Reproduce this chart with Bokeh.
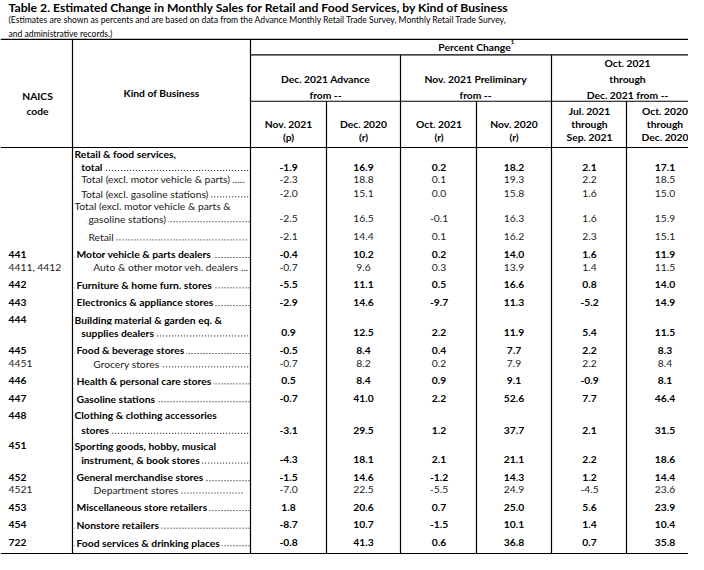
from bokeh.plotting import figure
from bokeh.models import ColumnDataSource, Range1d
from bokeh.core.properties import value
from bokeh.embed import file_html
from bokeh.resources import INLINE

FONT = "Lato"

# ---------------- data ----------------
title = "Table 2.  Estimated Change in Monthly Sales for Retail and Food Services, by Kind of Business"
subtitle1 = "(Estimates are shown as percents and are based on data from the Advance Monthly Retail Trade Survey,  Monthly Retail Trade Survey,"
subtitle2 = " and administrative records.)"

naics = ["", "", "", "", "", "441", "4411, 4412", "442", "443", "444", "445", "4451",
         "446", "447", "448", "451", "452", "4521", "453", "454", "722"]
kind_first = ["Retail & food services,", "", "", "Total (excl. motor vehicle & parts &", "", "", "", "", "",
              "Building material & garden eq. &", "", "", "", "", "Clothing & clothing accessories",
              "Sporting goods, hobby, musical", "", "", "", "", ""]
kind_main = ["total", "Total (excl. motor vehicle & parts) .....", "Total (excl. gasoline stations)",
             "gasoline stations)", "Retail", "Motor vehicle & parts dealers",
             "Auto & other motor veh. dealers ...", "Furniture & home furn. stores",
             "Electronics & appliance stores", "supplies dealers", "Food & beverage stores",
             "Grocery stores", "Health & personal care stores", "Gasoline stations", "stores",
             "instrument, & book stores", "General merchandise stores", "Department stores",
             "Miscellaneous store retailers", "Nonstore retailers", "Food services & drinking places"]
is_bold = [True, False, False, False, False, True, False, True, True, True, True, False,
           True, True, True, True, True, False, True, True, True]

dec21_from_nov21 = [-1.9, -2.3, -2.0, -2.5, -2.1, -0.4, -0.7, -5.5, -2.9, 0.9, -0.5, -0.7,
                    0.5, -0.7, -3.1, -4.3, -1.5, -7.0, 1.8, -8.7, -0.8]
dec21_from_dec20 = [16.9, 18.8, 15.1, 16.5, 14.4, 10.2, 9.6, 11.1, 14.6, 12.5, 8.4, 8.2,
                    8.4, 41.0, 29.5, 18.1, 14.6, 22.5, 20.6, 10.7, 41.3]
nov21_from_oct21 = [0.2, 0.1, 0.0, -0.1, 0.1, 0.2, 0.3, 0.5, -9.7, 2.2, 0.4, 0.2,
                    0.9, 2.2, 1.2, 2.1, -1.2, -5.5, 0.7, -1.5, 0.6]
nov21_from_nov20 = [18.2, 19.3, 15.8, 16.3, 16.2, 14.0, 13.9, 16.6, 11.3, 11.9, 7.7, 7.9,
                    9.1, 52.6, 37.7, 21.1, 14.3, 24.9, 25.0, 10.1, 36.8]
q_from_jul_sep21 = [2.1, 2.2, 1.6, 1.6, 2.3, 1.6, 1.4, 0.8, -5.2, 5.4, 2.2, 2.2,
                    -0.9, 7.7, 2.1, 2.2, 1.2, -4.5, 5.6, 1.4, 0.7]
q_from_oct_dec20 = [17.1, 18.5, 15.0, 15.9, 15.1, 11.9, 11.5, 14.0, 14.9, 11.5, 8.3, 8.4,
                    8.1, 46.4, 31.5, 18.6, 14.4, 23.6, 23.9, 10.4, 35.8]

group_headers = [["Dec. 2021 Advance", "from --"], ["Nov. 2021 Preliminary", "from --"],
                 ["Oct. 2021", "through", "Dec. 2021 from --"]]
col_headers = [["Nov. 2021", "(p)"], ["Dec. 2020", "(r)"], ["Oct. 2021", "(r)"], ["Nov. 2020", "(r)"],
               ["Jul. 2021", "through", "Sep. 2021"], ["Oct. 2020", "through", "Dec. 2020"]]

# ---------------- layout (reference pixel coordinates) ----------------
row_y = [173.5, 186, 200.5, 226, 244.5, 262.5, 276, 293.5, 311.7, 342.7, 360.7, 374.3,
         391.7, 410, 442.3, 472.7, 490.7, 503.3, 521.3, 539.3, 557.3]
first_y = [160, None, None, 213, None, None, None, None, None, 329.7, None, None,
           None, None, 427.3, 458.3, None, None, None, None, None]
main_x = [78.7, 78.7, 78.7, 86, 86, 74, 90.7, 74, 74, 78.7, 74, 90.7,
          74, 74, 78.7, 78.7, 74, 91, 74, 74, 74]
first_x = 74
dots_end = [250, 241.5, 250, 250, 247, 250, 241.5, 250, 250, 250, 250, 250,
            250, 250, 250, 250, 250, 243.3, 250, 250, 250]
col_x = [288, 363, 438.5, 513.5, 589, 664.5]
group_x = [325, 475, 627]

BODY = "10.3px"

p = figure(width=688, height=554, x_range=Range1d(0, 688), y_range=Range1d(569.5, 3),
           output_backend="svg", toolbar_location=None, min_border=0,
           x_axis_type=None, y_axis_type=None)
p.grid.visible = False
p.outline_line_color = None
p.background_fill_color = "white"
p.border_fill_color = "white"


def txt(xs, ys, texts, size=BODY, bold=False, align="left", color="#000000", bg=None):
    src = ColumnDataSource(dict(x=xs, y=ys, t=texts))
    kw = {}
    if bg:
        kw = dict(background_fill_color=bg, padding=2)
    p.text(x="x", y="y", text="t", source=src, text_font=value(FONT), text_font_size=size,
           text_font_style="bold" if bold else "normal", text_align=align,
           text_baseline="middle", text_color=color, **kw)


# title & notes
txt([8], [10], [title], size="12.2px", bold=True)
txt([8], [23], [subtitle1], size="8.6px")
txt([8], [37], [subtitle2], size="8.6px")

# dot leaders
lx0, lx1, ly = [], [], []
for i in range(len(kind_main)):
    lx0.append(main_x[i])
    lx1.append(dots_end[i])
    ly.append(row_y[i] + 3.3)
p.segment(x0=lx0, y0=ly, x1=lx1, y1=ly, line_color="#000000", line_width=1, line_dash="1 2")

# header texts
hx, hy, ht = [], [], []
hx += [37, 37, 161]
hy += [100.5, 116, 98]
ht += ["NAICS", "code", "Kind of Business"]
hx.append(474); hy.append(51); ht.append("Percent Change")
for gi, lines in enumerate(group_headers):
    ys = [83, 100] if len(lines) == 2 else [67, 83, 100]
    for ln, yy in zip(lines, ys):
        hx.append(group_x[gi]); hy.append(yy); ht.append(ln)
for ci, lines in enumerate(col_headers):
    ys = [129, 143] if len(lines) == 2 else [116, 129.5, 143]
    for ln, yy in zip(lines, ys):
        hx.append(col_x[ci]); hy.append(yy); ht.append(ln)
txt(hx, hy, ht, bold=True, align="center")
txt([512], [45.5], ["1"], size="6px", bold=True, align="center")

# body
cols = [dec21_from_nov21, dec21_from_dec20, nov21_from_oct21, nov21_from_nov20,
        q_from_jul_sep21, q_from_oct_dec20]
for b in (True, False):
    idx = [i for i in range(len(kind_main)) if is_bold[i] == b]
    color = "#000000" if b else "#1a1a1a"
    # codes
    cx, cy, ct = [], [], []
    for i in idx:
        if naics[i]:
            cx.append(8)
            cy.append(first_y[i] if first_y[i] is not None else row_y[i])
            ct.append(naics[i])
    txt(cx, cy, ct, bold=b, color=color)
    # first lines
    fx, fy, ft = [], [], []
    for i in idx:
        if kind_first[i]:
            fx.append(first_x); fy.append(first_y[i]); ft.append(kind_first[i])
    if ft:
        txt(fx, fy, ft, bold=b, color=color)
    # main lines (white background hides the leader underneath)
    txt([main_x[i] for i in idx], [row_y[i] for i in idx], [kind_main[i] for i in idx],
        bold=b, color=color, bg="white")
    # values
    vx, vy, vt = [], [], []
    for ci, col in enumerate(cols):
        for i in idx:
            vx.append(col_x[ci]); vy.append(row_y[i]); vt.append(f"{col[i]:.1f}")
    txt(vx, vy, vt, bold=b, align="center", color=color)

# rules
seg_x0 = [0, 250, 250, 0, 0, 72, 250, 400, 551, 326, 476, 626]
seg_x1 = [700, 700, 700, 700, 700, 72, 250, 400, 551, 326, 476, 626]
seg_y0 = [42.7, 58.7, 106, 153.3, 568.5, 42.7, 42.7, 58.7, 58.7, 106, 106, 106]
seg_y1 = [42.7, 58.7, 106, 153.3, 568.5, 568.5, 568.5, 568.5, 568.5, 568.5, 568.5, 568.5]
p.segment(x0=seg_x0, y0=seg_y0, x1=seg_x1, y1=seg_y1, line_color="#000000", line_width=1.2)

open("out.html", "w").write(file_html(p, INLINE))
